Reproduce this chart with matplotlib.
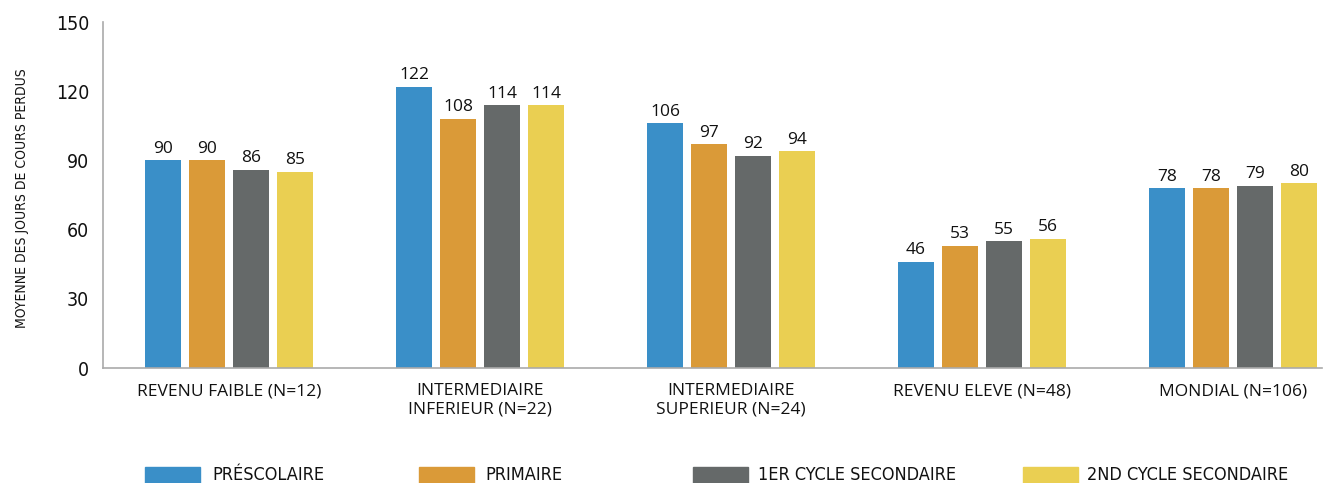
import matplotlib
matplotlib.use("Agg")
import matplotlib.pyplot as plt
import matplotlib.transforms as mtransforms
from matplotlib.patches import Rectangle
from matplotlib import font_manager
import numpy as np

categories = ["REVENU FAIBLE (N=12)", "INTERMEDIAIRE\nINFERIEUR (N=22)",
              "INTERMEDIAIRE\nSUPERIEUR (N=24)", "REVENU ELEVE (N=48)",
              "MONDIAL (N=106)"]
series_names = ["PRÉSCOLAIRE", "PRIMAIRE", "1ER CYCLE SECONDAIRE", "2ND CYCLE SECONDAIRE"]
prescolaire = [90, 122, 106, 46, 78]
primaire = [90, 108, 97, 53, 78]
cycle1 = [86, 114, 92, 55, 79]
cycle2 = [85, 114, 94, 56, 80]
yticks = [0, 30, 60, 90, 120, 150]

colors = ["#3A8FC8", "#DA9A38", "#656969", "#EACF52"]
series = [prescolaire, primaire, cycle1, cycle2]

W, H = 1327, 483
fig = plt.figure(figsize=(W / 100, H / 100), dpi=100)
ax = fig.add_axes([103 / W, (H - 368) / H, (1322 - 103) / W, 346 / H])

cond = font_manager.FontProperties(family="DejaVu Sans", stretch="condensed")
reg = ["Open Sans", "DejaVu Sans"]

x = np.arange(len(categories))
step = 44 / 251
bw = 36 / 251
for i, (vals, c) in enumerate(zip(series, colors)):
    pos = x + (i - 1.5) * step
    ax.bar(pos, vals, width=bw, color=c, zorder=2)
    for xx, v in zip(pos, vals):
        ax.annotate(f"{v}", (xx, v), xytext=(0, 2.5), textcoords="offset points",
                    ha="center", va="bottom", fontsize=12.5, family=reg, color="#111111")

ax.set_ylim(0, 150)
ax.set_xlim(-(229 - 103) / 251, 4 + (1322 - 1233) / 251)
ax.set_yticks(yticks)
ax.set_yticklabels([str(t) for t in yticks])
off = mtransforms.ScaledTranslation(0, -5 / 100, fig.dpi_scale_trans)
for lab in ax.get_yticklabels():
    lab.set_fontproperties(cond)
    lab.set_fontsize(14)
    lab.set_color("#111111")
    lab.set_transform(lab.get_transform() + off)
ax.tick_params(axis="y", length=0, pad=10)
ax.set_xticks(x)
ax.set_xticklabels(categories, family=reg, fontsize=12.5, color="#111111", linespacing=1.2)
ax.tick_params(axis="x", length=0, pad=11)

for s in ["top", "right"]:
    ax.spines[s].set_visible(False)
for s in ["left", "bottom"]:
    ax.spines[s].set_color("#aaaaaa")
    ax.spines[s].set_linewidth(1.2)

t = fig.text(22 / W, 1 - 198 / H, "MOYENNE DES JOURS DE COURS PERDUS", rotation=90,
             ha="center", va="center", color="#111111")
t.set_fontproperties(cond)
t.set_fontsize(10)

# legend
patch_x = [145, 419, 693, 1023]
text_x = [212, 485, 758, 1087]
for px, tx, c, name in zip(patch_x, text_x, colors, series_names):
    fig.patches.append(Rectangle((px / W, 0), 55 / W, 16 / H, transform=fig.transFigure,
                                 color=c, figure=fig))
    tt = fig.text(tx / W, 1 - 475 / H, name, ha="left", va="center", color="#111111")
    tt.set_fontproperties(cond)
    tt.set_fontsize(13)

fig.savefig("out.png", dpi=100)
